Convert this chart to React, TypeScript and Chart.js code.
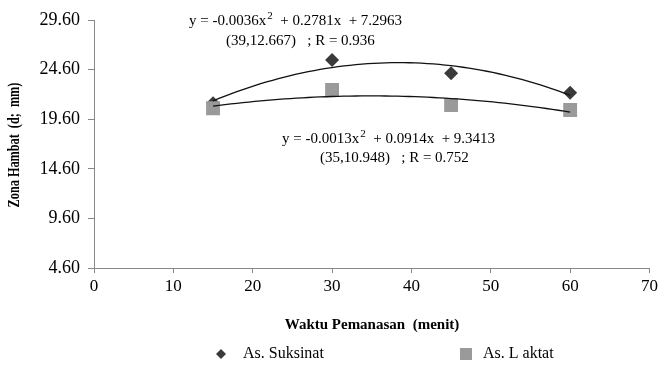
import React, { useEffect, useRef } from "react";
import { Chart, registerables } from "chart.js";

Chart.register(...registerables);

const xValues = [15, 30, 45, 60];
const suksinat = [21.2, 25.57, 24.23, 22.27];
const laktat = [20.7, 22.54, 21.03, 20.53];
const yTicks = [4.6, 9.6, 14.6, 19.6, 24.6, 29.6];
const xTicks = [0, 10, 20, 30, 40, 50, 60, 70];

const seriesNames = ["As. Suksinat", "As. L aktat"];
const eqSuksinat = ["y = -0.0036x", "2", "  + 0.2781x  + 7.2963"];
const eqSuksinatNote = "(39,12.667)   ; R = 0.936";
const eqLaktat = ["y = -0.0013x", "2", "  + 0.0914x  + 9.3413"];
const eqLaktatNote = "(35,10.948)   ; R = 0.752";
const xTitle = "Waktu Pemanasan  (menit)";
const yTitle = "Zona Hambat  (d;  mm)";

const SERIF = "'Liberation Serif', 'Times New Roman', serif";
const DIAMOND = "#3a3a3a";
const SQUARE = "#9a9a9a";

function fitQuadratic(xs: number[], ys: number[]) {
  // least squares y = a + b x + c x^2
  const s = [0, 0, 0, 0, 0];
  const t = [0, 0, 0];
  for (let i = 0; i < xs.length; i++) {
    let p = 1;
    for (let k = 0; k < 5; k++) {
      s[k] += p;
      if (k < 3) t[k] += p * ys[i];
      p *= xs[i];
    }
  }
  const m = [
    [s[0], s[1], s[2], t[0]],
    [s[1], s[2], s[3], t[1]],
    [s[2], s[3], s[4], t[2]],
  ];
  for (let i = 0; i < 3; i++) {
    let piv = i;
    for (let r = i + 1; r < 3; r++) if (Math.abs(m[r][i]) > Math.abs(m[piv][i])) piv = r;
    [m[i], m[piv]] = [m[piv], m[i]];
    for (let r = 0; r < 3; r++) {
      if (r === i) continue;
      const f = m[r][i] / m[i][i];
      for (let c = i; c < 4; c++) m[r][c] -= f * m[i][c];
    }
  }
  return [m[0][3] / m[0][0], m[1][3] / m[1][1], m[2][3] / m[2][2]];
}

const overlay = {
  id: "overlay",
  afterDatasetsDraw(chart: any) {
    const ctx = chart.ctx;
    const xs = chart.scales.x;
    const ys = chart.scales.y;
    ctx.save();
    [suksinat, laktat].forEach((vals) => {
      const [a, b, c] = fitQuadratic(xValues, vals);
      const x0 = Math.min(...xValues);
      const x1 = Math.max(...xValues);
      ctx.beginPath();
      const n = 60;
      for (let i = 0; i <= n; i++) {
        const xv = x0 + ((x1 - x0) * i) / n;
        const yv = a + b * xv + c * xv * xv;
        const px = xs.getPixelForValue(xv);
        const py = ys.getPixelForValue(yv);
        if (i === 0) ctx.moveTo(px, py);
        else ctx.lineTo(px, py);
      }
      ctx.strokeStyle = "#111";
      ctx.lineWidth = 1.3;
      ctx.stroke();
    });
    ctx.restore();
  },
  afterDraw(chart: any) {
    const ctx = chart.ctx;
    ctx.save();
    ctx.fillStyle = "#000";
    ctx.textBaseline = "middle";

    const drawEq = (parts: string[], x: number, y: number) => {
      ctx.textAlign = "left";
      ctx.font = `15px ${SERIF}`;
      ctx.fillText(parts[0], x, y);
      let cx = x + ctx.measureText(parts[0]).width;
      ctx.font = `11px ${SERIF}`;
      ctx.fillText(parts[1], cx + 1, y - 5);
      cx += ctx.measureText(parts[1]).width + 1;
      ctx.font = `15px ${SERIF}`;
      ctx.fillText(parts[2], cx, y);
    };
    drawEq(eqSuksinat, 189, 21);
    ctx.font = `15px ${SERIF}`;
    ctx.textAlign = "left";
    ctx.fillText(eqSuksinatNote, 226, 41);
    drawEq(eqLaktat, 282, 139);
    ctx.font = `15px ${SERIF}`;
    ctx.textAlign = "left";
    ctx.fillText(eqLaktatNote, 320, 158);

    // axis titles
    ctx.font = `bold 15px ${SERIF}`;
    ctx.textAlign = "center";
    ctx.fillText(xTitle, 372, 325);
    ctx.save();
    ctx.translate(15, 145);
    ctx.rotate(-Math.PI / 2);
    ctx.scale(0.72, 1);
    ctx.font = `bold 17px ${SERIF}`;
    ctx.fillText(yTitle, 0, 0);
    ctx.restore();

    // legend
    const ly = 354;
    ctx.fillStyle = DIAMOND;
    ctx.beginPath();
    ctx.moveTo(221, ly - 5);
    ctx.lineTo(226, ly);
    ctx.lineTo(221, ly + 5);
    ctx.lineTo(216, ly);
    ctx.closePath();
    ctx.fill();
    ctx.fillStyle = SQUARE;
    ctx.fillRect(460, ly - 6, 12, 12);
    ctx.fillStyle = "#000";
    ctx.font = `16px ${SERIF}`;
    ctx.textAlign = "left";
    ctx.fillText(seriesNames[0], 243, ly);
    ctx.fillText(seriesNames[1], 483, ly);
    ctx.restore();
  },
};

export default function App() {
  const ref = useRef<HTMLCanvasElement>(null);
  useEffect(() => {
    const chart = new Chart(ref.current!, {
      type: "scatter",
      data: {
        datasets: [
          {
            label: seriesNames[0],
            data: xValues.map((x, i) => ({ x, y: suksinat[i] })),
            pointStyle: "rectRot",
            pointRadius: 7,
            backgroundColor: DIAMOND,
            borderColor: DIAMOND,
            borderWidth: 0,
            order: 1,
          },
          {
            label: seriesNames[1],
            data: xValues.map((x, i) => ({ x, y: laktat[i] })),
            pointStyle: "rect",
            pointRadius: 9.8,
            backgroundColor: SQUARE,
            borderColor: SQUARE,
            borderWidth: 0,
            order: 0,
          },
        ],
      },
      options: {
        responsive: false,
        animation: false,
        layout: { padding: { top: 20, right: 9, left: 0, bottom: 0 } },
        plugins: { legend: { display: false }, tooltip: { enabled: false } },
        scales: {
          x: {
            type: "linear",
            min: 0,
            max: 70,
            afterBuildTicks: (s: any) => {
              s.ticks = xTicks.map((v) => ({ value: v }));
            },
            afterFit: (s: any) => {
              s.height = 104;
            },
            ticks: {
              color: "#000",
              font: { family: SERIF, size: 17 },
              padding: 3,
              maxRotation: 0,
              autoSkip: false,
            },
            grid: { drawOnChartArea: false, tickLength: 5, color: "#888" },
            border: { color: "#888", width: 1 },
          },
          y: {
            type: "linear",
            min: 4.6,
            max: 29.6,
            afterBuildTicks: (s: any) => {
              s.ticks = yTicks.map((v) => ({ value: v }));
            },
            afterFit: (s: any) => {
              s.width = 94;
            },
            ticks: {
              color: "#000",
              font: { family: SERIF, size: 18 },
              padding: 8,
              autoSkip: false,
              callback: (v: any) => Number(v).toFixed(2),
            },
            grid: { drawOnChartArea: false, tickLength: 6, color: "#888" },
            border: { color: "#888", width: 1 },
          },
        },
      },
      plugins: [overlay],
    });
    return () => chart.destroy();
  }, []);
  return (
    <div style={{ position: "fixed", left: 0, top: 0, width: 661, height: 372, background: "#fff" }}>
      <canvas ref={ref} width={661} height={372} />
    </div>
  );
}
